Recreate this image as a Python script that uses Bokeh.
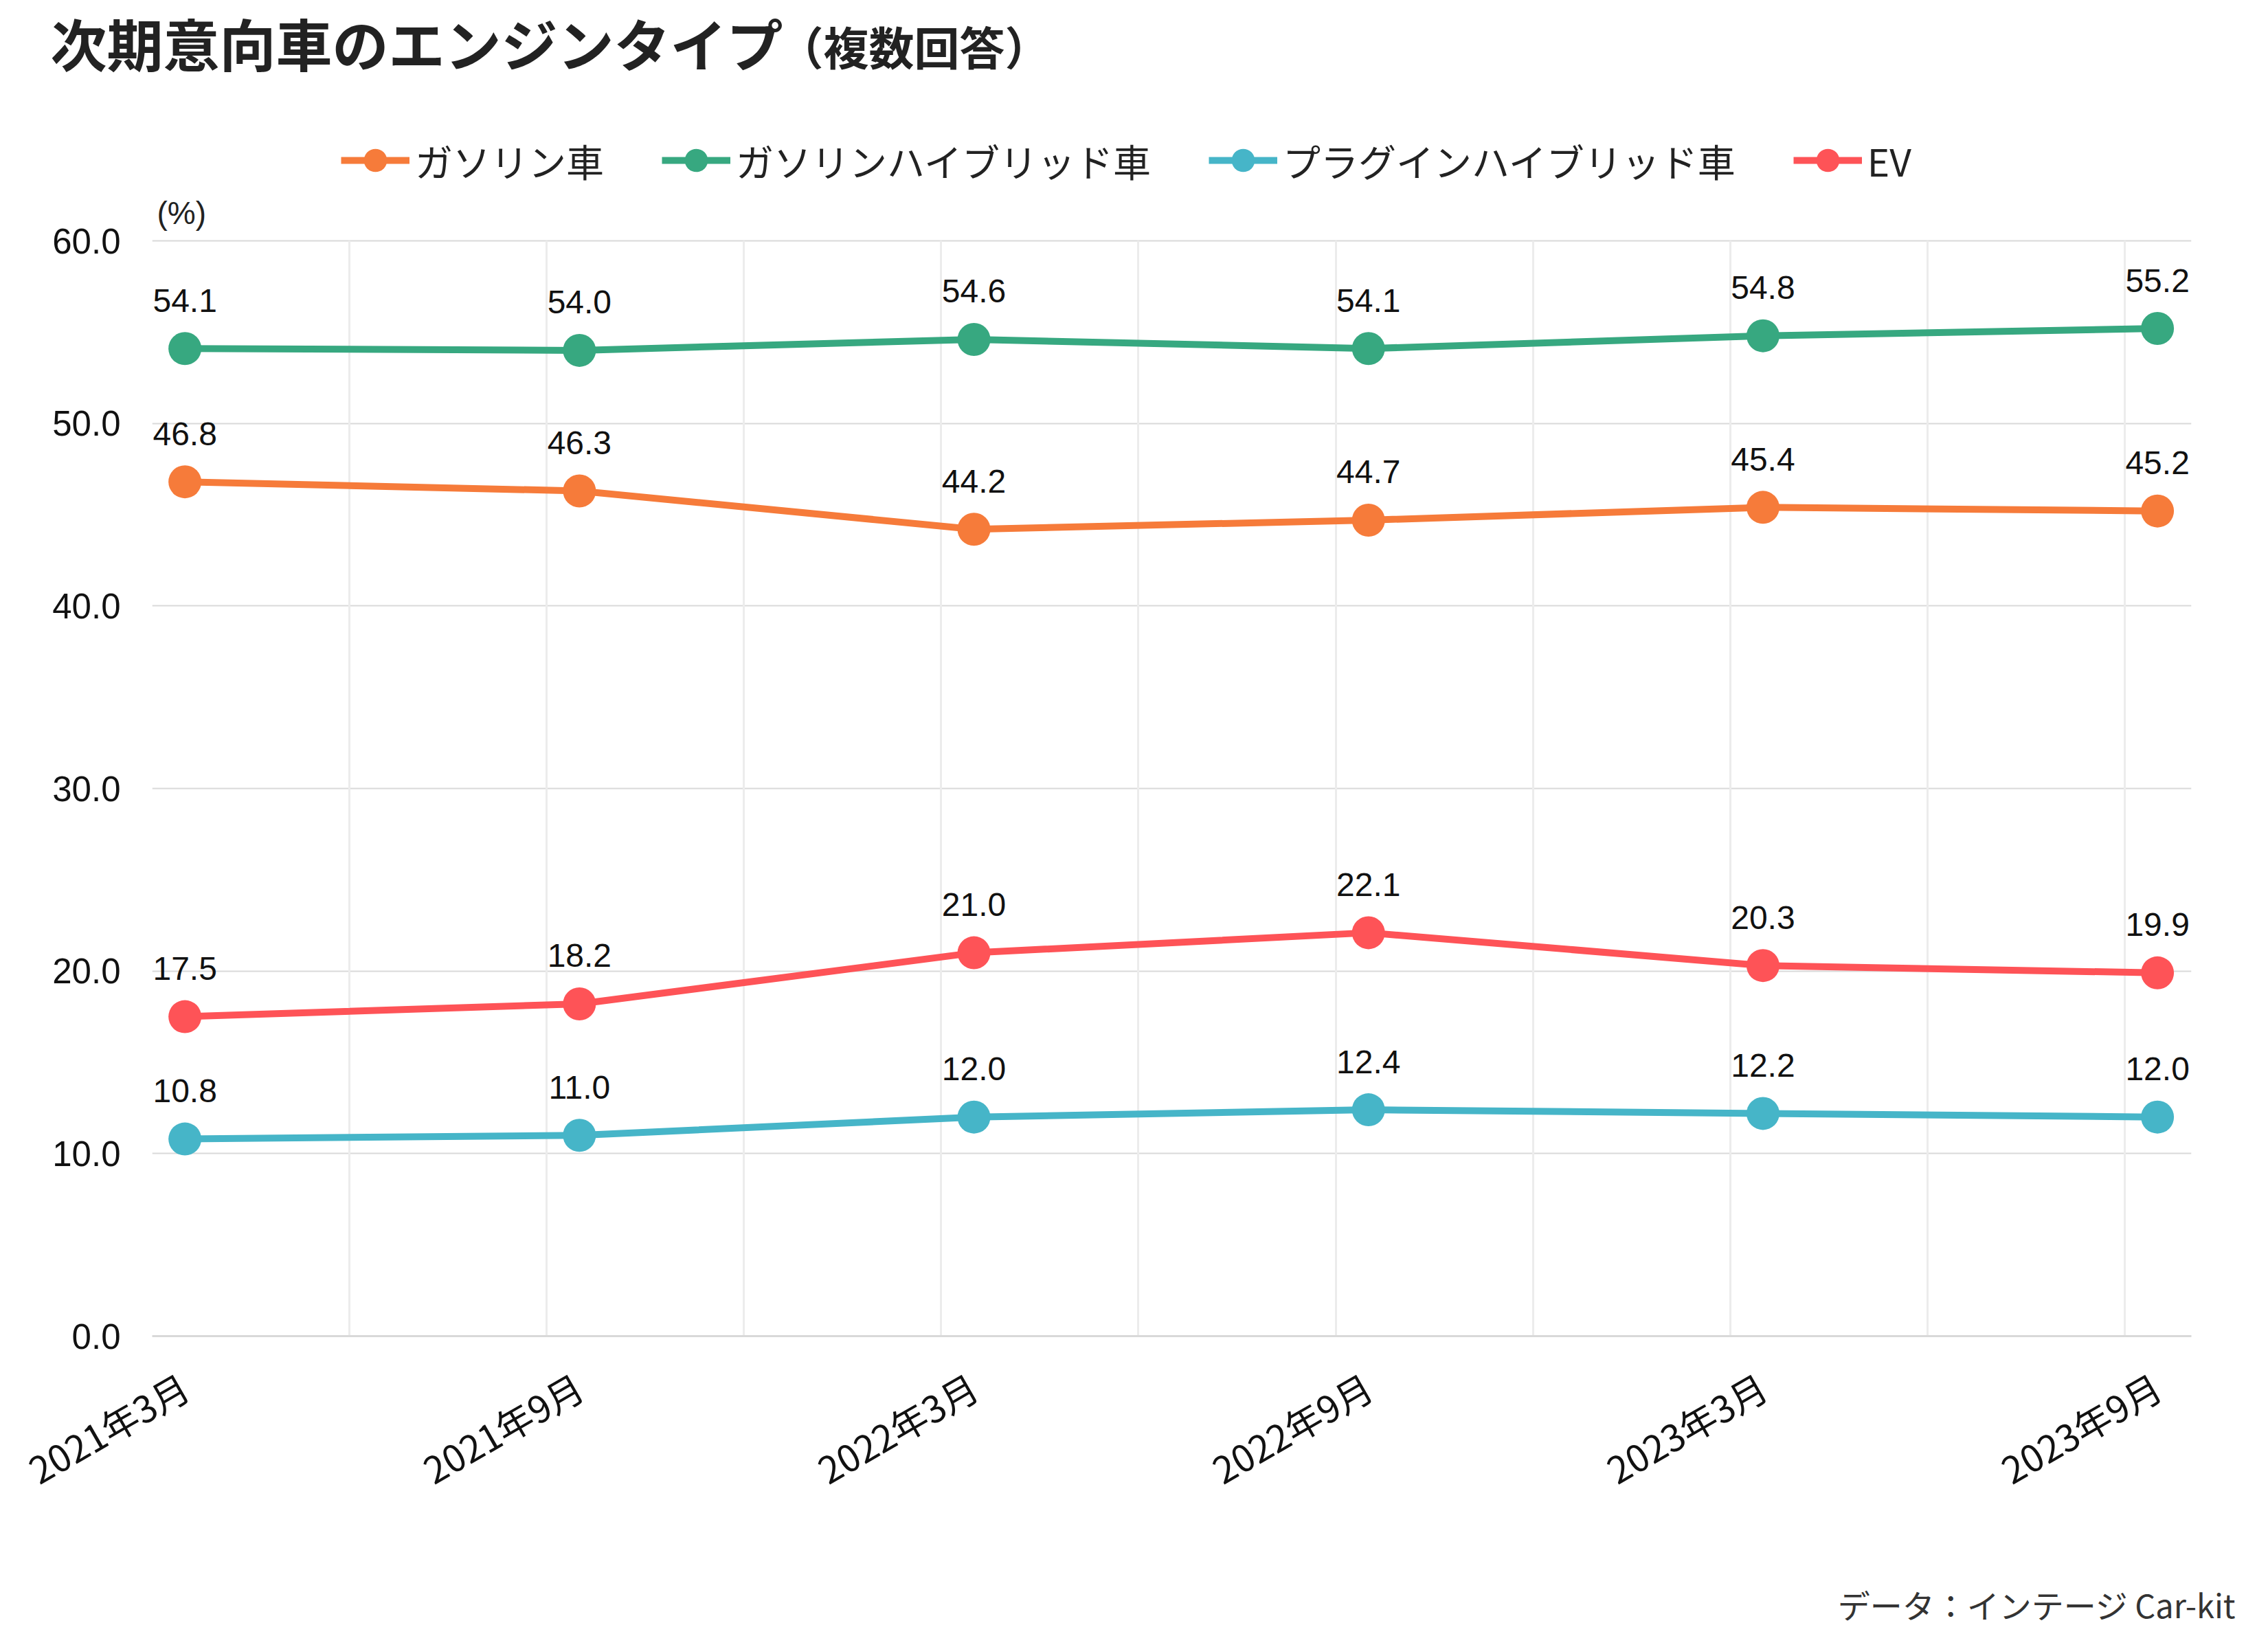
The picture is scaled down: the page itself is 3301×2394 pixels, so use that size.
from bokeh.plotting import figure
from bokeh.layouts import column
from bokeh.models import (Range1d, FixedTicker, PrintfTickFormatter, Grid, Label,
                          Legend, LegendItem, ColumnDataSource)
from bokeh.core.properties import value
from bokeh.embed import file_html
from bokeh.resources import INLINE
import math

# --- data -----------------------------------------------------------------
periods = ["2021年3月", "2021年9月", "2022年3月", "2022年9月", "2023年3月", "2023年9月"]
series_names = ["ガソリン車", "ガソリンハイブリッド車", "プラグインハイブリッド車", "EV"]
gasoline = [46.8, 46.3, 44.2, 44.7, 45.4, 45.2]
hybrid = [54.1, 54.0, 54.6, 54.1, 54.8, 55.2]
plugin_hybrid = [10.8, 11.0, 12.0, 12.4, 12.2, 12.0]
ev = [17.5, 18.2, 21.0, 22.1, 20.3, 19.9]
y_ticks = [0, 10, 20, 30, 40, 50, 60]

series_values = [gasoline, hybrid, plugin_hybrid, ev]
series_colors = ["#F67B3A", "#37A880", "#46B5C8", "#FE5357"]

# --- page geometry ----------------------------------------------------------
W, H = 3301, 2394
HEAD_H, FOOT_H = 278, 104
MAIN_H = H - HEAD_H - FOOT_H
LEFT, RIGHT = 221, 112
AXIS_TOP_PX, AXIS_BOTTOM_PX = 350, 1944      # page rows of the 60 and 0 lines
MAIN_BOTTOM = (H - FOOT_H) - AXIS_BOTTOM_PX
Y_MAX = 60
# the frame reaches above the 60 line so the unit label sits inside it
Y_TOP = Y_MAX * (AXIS_BOTTOM_PX - HEAD_H) / (AXIS_BOTTOM_PX - AXIS_TOP_PX)

JP = "Noto Sans CJK JP"
LATIN = "Liberation Sans"


def blank_figure(height):
    f = figure(width=W, height=height, output_backend="svg", toolbar_location=None,
               x_range=Range1d(0, W), y_range=Range1d(height, 0),
               x_axis_location=None, y_axis_location=None,
               min_border=0, min_border_left=0, min_border_right=0,
               min_border_top=0, min_border_bottom=0, frame_align=False)
    f.outline_line_color = None
    f.background_fill_color = "white"
    f.border_fill_color = "white"
    f.grid.visible = False
    return f


# --- header: title and legend -------------------------------------------------
head = blank_figure(HEAD_H)
head.add_layout(Label(x=73, y=61, text="次期意向車のエンジンタイプ", text_font=JP,
                      text_font_size="82px", text_font_style="bold",
                      text_color="#222222", text_baseline="middle"))
head.add_layout(Label(x=1132, y=65, text="（複数回答）", text_font=JP,
                      text_font_size="66px", text_font_style="bold",
                      text_color="#222222", text_baseline="middle"))

# legend swatches: one-row sources holding NaN so nothing is drawn in the header
items = []
nan = float("nan")
for name, col in zip(series_names, series_colors):
    swatch = ColumnDataSource(dict(x=[nan], y=[nan]))
    lr = head.line("x", "y", source=swatch, line_color=col, line_width=10)
    sr = head.scatter("x", "y", source=swatch, size=34, fill_color=col, line_color=None)
    items.append(LegendItem(label=name, renderers=[lr, sr]))

legend = Legend(items=items, orientation="horizontal",
                location=(496, HEAD_H - 275),
                glyph_width=100, glyph_height=84, label_standoff=8, spacing=84,
                padding=0, margin=0, border_line_color=None,
                background_fill_alpha=0,
                label_text_font=JP, label_text_font_size="55px",
                label_text_color="#222222")
head.add_layout(legend)

# --- main chart -------------------------------------------------------------
X_START, X_END = -0.083, 5.086

p = figure(width=W, height=MAIN_H, output_backend="svg", toolbar_location=None,
           x_range=Range1d(X_START, X_END), y_range=Range1d(0, Y_TOP),
           min_border_left=LEFT, min_border_right=RIGHT,
           min_border_top=0, min_border_bottom=MAIN_BOTTOM,
           frame_align=False)
p.outline_line_color = None
p.background_fill_color = "white"
p.border_fill_color = "white"

p.xgrid.visible = False
p.ygrid.grid_line_color = "#d9d9d9"
p.ygrid.grid_line_width = 2
p.ygrid.ticker = FixedTicker(ticks=y_ticks)

# vertical grid, every half period, stopping at the 60 line
grid_x = [X_START + 0.5 * k for k in range(11)]
if "cross_bounds" in Grid.properties():
    p.add_layout(Grid(dimension=0, ticker=FixedTicker(ticks=grid_x),
                      cross_bounds=(0, Y_MAX),
                      grid_line_color="#ececec", grid_line_width=3))
else:
    p.segment(x0=grid_x, y0=[0] * len(grid_x), x1=grid_x, y1=[Y_MAX] * len(grid_x),
              line_color="#ececec", line_width=3, level="underlay")

xa = p.xaxis[0]
xa.ticker = FixedTicker(ticks=list(range(len(periods))))
xa.major_label_overrides = {i: lab for i, lab in enumerate(periods)}
xa.major_label_orientation = math.pi / 6
xa.major_label_text_font = JP
xa.major_label_text_font_size = "54px"
xa.major_label_text_color = "#111111"
xa.major_label_standoff = 62
xa.axis_line_color = "#d9d9d9"
xa.axis_line_width = 3
xa.major_tick_line_color = None
xa.minor_tick_line_color = None

ya = p.yaxis[0]
ya.ticker = FixedTicker(ticks=y_ticks)
ya.formatter = PrintfTickFormatter(format="%.1f")
ya.major_label_text_font = LATIN
ya.major_label_text_font_size = "51px"
ya.major_label_text_color = "#111111"
ya.major_label_standoff = 40
ya.axis_line_color = None
ya.major_tick_line_color = None
ya.minor_tick_line_color = None

# unit label just above the 60 line, at the left of the frame
p.add_layout(Label(x=7, y=AXIS_BOTTOM_PX - 309, x_units="screen", y_units="screen",
                   text="(%)", text_font=LATIN, text_font_size="46px",
                   text_color="#222222", text_baseline="middle"))

xs = list(range(len(periods)))
for vals, col in zip(series_values, series_colors):
    src = ColumnDataSource(dict(x=xs, y=vals, lab=["%.1f" % v for v in vals]))
    p.line("x", "y", source=src, line_color=col, line_width=10)
    p.scatter("x", "y", source=src, size=48, fill_color=col, line_color=None)
    p.text("x", "y", text="lab", source=src, text_align="center",
           text_baseline="alphabetic", y_offset=-70,
           text_font=value(LATIN), text_font_size="48px",
           text_color="#111111")

# --- footer: source ---------------------------------------------------------
foot = blank_figure(FOOT_H)
foot.add_layout(Label(x=3254, y=44, text="データ：インテージ Car-kit", text_font=JP,
                      text_font_size="47px", text_color="#333333",
                      text_align="right", text_baseline="middle"))

page = column(head, p, foot, spacing=0)
open("out.html", "w").write(file_html(page, INLINE))
